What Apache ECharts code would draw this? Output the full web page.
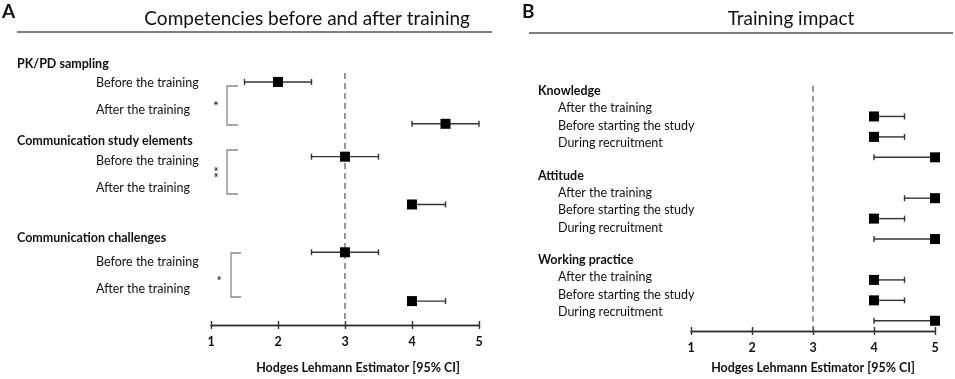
<!DOCTYPE html>
<html>
<head>
<meta charset="utf-8">
<script src="https://cdn.jsdelivr.net/npm/echarts@6/dist/echarts.min.js"></script>
<style>
html, body { margin: 0; padding: 0; background: #fff; }
#main { width: 955px; height: 379px; }
</style>
</head>
<body>
<div id="main"></div>
<script>
// ---- data ----
// panel A: competencies before and after training
var aEst  = [2, 4.5, 3, 4, 3, 4];
var aLow  = [1.5, 4, 2.5, 4, 2.5, 4];
var aHigh = [2.5, 5, 3.5, 4.5, 3.5, 4.5];
var aRow  = [0.9, 5.1, 8.4, 13.2, 18.0, 22.9];
var aGroups = ['PK/PD sampling', 'Communication study elements', 'Communication challenges'];
var aItems  = ['Before the training', 'After the training'];

// panel B: training impact
var bEst  = [4, 4, 5, 5, 4, 5, 4, 4, 5];
var bLow  = [4, 4, 4, 4.5, 4, 4, 4, 4, 4];
var bHigh = [4.5, 4.5, 5, 5, 4.5, 5, 4.5, 4.5, 5];
var bRow  = [0, 1, 2, 4, 5, 6, 8, 9, 10];
var bGroups = ['Knowledge', 'Attitude', 'Working practice'];
var bItems  = ['After the training', 'Before starting the study', 'During recruitment'];

var ticks = [1, 2, 3, 4, 5];
var refValue = 3;
var xName = 'Hodges Lehmann Estimator [95% CI]';

// ---- layout (label positions) ----
var FONT = 'Lato';
var aGroupY = [64, 141, 238];
var aItemY  = [[83, 110], [161, 188], [262, 289]];
var bGroupY = [91, 176, 260];
var bItemY  = [[108, 126, 143], [193, 210, 228], [277, 295, 312]];

var chart = echarts.init(document.getElementById('main'));

function ciData(low, high, row) {
    return low.map(function (l, i) { return [l, high[i], row[i]]; });
}
function ptData(est, row) {
    return est.map(function (e, i) { return [e, row[i]]; });
}

function renderCI(params, api) {
    var p1 = api.coord([api.value(0), api.value(2)]);
    var p2 = api.coord([api.value(1), api.value(2)]);
    var st = { stroke: '#333', lineWidth: 1.4 };
    var h = 3;
    return {
        type: 'group',
        children: [
            { type: 'line', shape: { x1: p1[0], y1: p1[1], x2: p2[0], y2: p2[1] }, style: st },
            { type: 'line', shape: { x1: p1[0], y1: p1[1] - h, x2: p1[0], y2: p1[1] + h }, style: st },
            { type: 'line', shape: { x1: p2[0], y1: p2[1] - h, x2: p2[0], y2: p2[1] + h }, style: st }
        ]
    };
}

function xAxes(gridIndex, gap, pad) {
    var base = {
        gridIndex: gridIndex, type: 'value', min: ticks[0], max: ticks[ticks.length - 1], interval: 1,
        position: 'bottom', splitLine: { show: false },
        axisLine: { show: true, onZero: false, lineStyle: { color: '#333', width: 1.4 } }
    };
    return [
        Object.assign({}, base, {
            axisTick: { show: true, length: 4, lineStyle: { color: '#333', width: 1.4 } },
            axisLabel: { margin: 10, color: '#111', fontWeight: 'bold', fontSize: 12.5, fontFamily: FONT },
            name: xName, nameLocation: 'middle', nameGap: gap,
            nameTextStyle: { color: '#111', fontWeight: 'bold', fontSize: 12.5, fontFamily: FONT, padding: pad }
        }),
        Object.assign({}, base, {
            axisTick: { show: true, inside: true, length: 4, lineStyle: { color: '#333', width: 1.4 } },
            axisLabel: { show: false }
        })
    ];
}

var refLine = {
    silent: true, symbol: 'none', label: { show: false }, z: 1,
    lineStyle: { color: '#777', type: [6, 4], width: 1.5 },
    data: [{ xAxis: refValue }]
};

// label graphics
var g = [];
function txt(t, x, y, size, bold, align) {
    g.push({ type: 'text', style: { text: t, x: x, y: y, fill: '#111',
        font: (bold ? 'bold ' : '') + size + 'px ' + FONT, align: align || 'left', verticalAlign: 'middle' } });
}
function hline(x1, y, x2, color) {
    g.push({ type: 'line', shape: { x1: x1, y1: y, x2: x2, y2: y }, style: { stroke: color, lineWidth: 1.3 } });
}
function bracket(x, y1, y2, arm) {
    g.push({ type: 'polyline', shape: { points: [[x + arm, y1], [x, y1], [x, y2], [x + arm, y2]] },
        style: { stroke: '#888', lineWidth: 1.3, fill: null } });
}
function rotTxt(t, x, y) {
    g.push({ type: 'text', rotation: Math.PI / 2, x: x, y: y,
        style: { text: t, x: 0, y: 0, fill: '#111', font: '14px ' + FONT, align: 'center', verticalAlign: 'middle' } });
}

txt('A', 2, 12, 19, true);
txt('Competencies before and after training', 470, 19, 19, false, 'right');
hline(17, 32, 492, '#555');
txt('B', 522, 12, 19, true);
txt('Training impact', 791, 19, 19, false, 'center');
hline(529, 33, 953, '#555');

aGroups.forEach(function (t, i) {
    txt(t, 17, aGroupY[i], 12.5, true);
    aItems.forEach(function (s, j) { txt(s, 96, aItemY[i][j], 12.5, false); });
});
bGroups.forEach(function (t, i) {
    txt(t, 538, bGroupY[i], 12.5, true);
    bItems.forEach(function (s, j) { txt(s, 558, bItemY[i][j], 12.5, false); });
});

bracket(227, 86, 125, 11);
bracket(227, 150, 194, 11);
bracket(231, 253, 297, 10);
txt('*', 216, 106, 14, false, 'center');
rotTxt('**', 219, 172);
rotTxt('*', 222, 278);

var option = {
    animation: false,
    backgroundColor: '#fff',
    grid: [
        { left: 211, right: 476, top: 73, bottom: 53 },
        { left: 691, right: 20, top: 85.8, bottom: 46 }
    ],
    xAxis: xAxes(0, 36, [0, 0, 0, 26]).concat(xAxes(1, 30, [0, 0, 0, 0])),
    yAxis: [
        { gridIndex: 0, type: 'value', inverse: true, min: 0, max: 25.3, show: false },
        { gridIndex: 1, type: 'value', inverse: true, min: -1.5, max: 10.5, show: false }
    ],
    graphic: g,
    series: [
        { type: 'custom', xAxisIndex: 0, yAxisIndex: 0, renderItem: renderCI,
          data: ciData(aLow, aHigh, aRow), markLine: refLine, z: 2 },
        { type: 'scatter', xAxisIndex: 0, yAxisIndex: 0, symbol: 'rect', symbolSize: 10,
          itemStyle: { color: '#000', opacity: 1 }, data: ptData(aEst, aRow), z: 6 },
        { type: 'custom', xAxisIndex: 2, yAxisIndex: 1, renderItem: renderCI,
          data: ciData(bLow, bHigh, bRow), markLine: refLine, z: 2 },
        { type: 'scatter', xAxisIndex: 2, yAxisIndex: 1, symbol: 'rect', symbolSize: 10,
          itemStyle: { color: '#000', opacity: 1 }, data: ptData(bEst, bRow), z: 6 }
    ]
};

chart.setOption(option);
window.addEventListener('resize', function () { chart.resize(); });
</script>
</body>
</html>
